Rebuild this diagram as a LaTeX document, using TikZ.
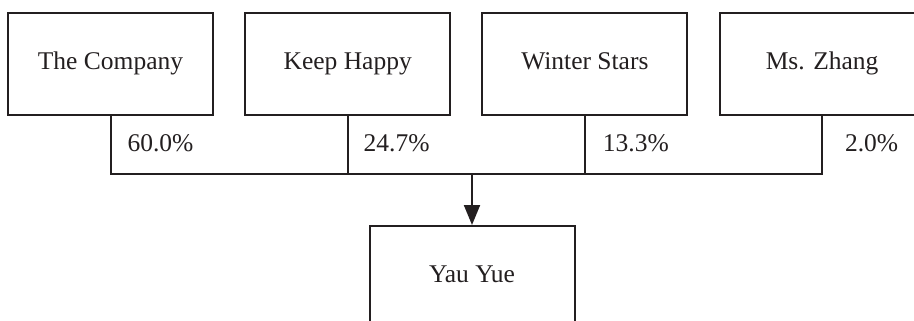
\documentclass[tikz,border=0pt]{standalone}
\usepackage{fontspec}
\setmainfont{Liberation Serif}
\usetikzlibrary{arrows.meta,positioning}
\definecolor{ink}{RGB}{35,31,32}

\begin{document}
\begin{tikzpicture}[>={Triangle[width=16pt,length=20pt]}, line width=2pt, draw=ink, text=ink, owner/.style={draw=ink, minimum width=205pt, minimum height=102pt, text height=17pt, text depth=6pt, font=\fontsize{25.5}{30}\selectfont}, pct/.style={anchor=west, inner sep=0pt, font=\fontsize{25.5}{30}\selectfont}]
\clip (0pt, 0pt) rectangle (914pt, -321pt);
\draw (110.5pt, -64pt)node[owner](company){The Company};
\draw (347.7pt, -64pt)node[owner](happy){Keep Happy};
\draw (584.9pt, -64pt)node[owner](stars){Winter Stars};
\draw (822.1pt, -64pt)node[owner](zhang){Ms. Zhang};
\draw (472pt, -277pt)node[owner](yau){Yau Yue};
\coordinate (join) at (472pt, -173.5pt);
\draw (company.south) |- (join) -| (zhang.south);
\draw (happy.south) -- (happy.south |- join);
\draw (stars.south) -- (stars.south |- join);
\draw[->] (join) -- (yau.north);
\node[pct] at ([xshift=16pt, yshift=-27pt]company.south) {60.0\%};
\node[pct] at ([xshift=15pt, yshift=-27pt]happy.south) {24.7\%};
\node[pct] at ([xshift=17pt, yshift=-27pt]stars.south) {13.3\%};
\node[pct] at ([xshift=22pt, yshift=-27pt]zhang.south) {2.0\%};
\end{tikzpicture}
\end{document}
